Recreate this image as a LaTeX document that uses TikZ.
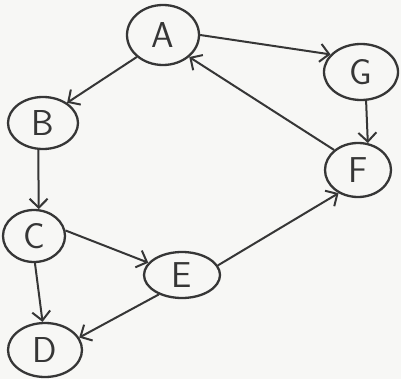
\documentclass[tikz,border=0pt]{standalone}
\usetikzlibrary{shapes.geometric,arrows.meta}
\definecolor{ink}{HTML}{363636}
\definecolor{paper}{HTML}{F7F7F5}
\begin{document}
\begin{tikzpicture}[x=1pt,y=-1pt,
  vert/.style={ellipse,draw=ink,line width=2.3pt,text=ink,inner sep=0pt,
    font=\sffamily\fontsize{36}{36}\selectfont},
  edge/.style={draw=ink,line width=2pt,-{Straight Barb[length=9pt,width=18pt,line width=2pt]}}]
\fill[paper] (0,0) rectangle (401,379);
\useasboundingbox (0,0) rectangle (401,379);
\node[vert,minimum width=72pt,minimum height=60pt] (A) at (163,35) {A};
\node[vert,minimum width=74pt,minimum height=56pt] (G) at (361,72) {G};
\node[vert,minimum width=70pt,minimum height=52pt] (B) at (43,123) {B};
\node[vert,minimum width=66pt,minimum height=54pt] (F) at (358,170) {F};
\node[vert,minimum width=62pt,minimum height=52pt] (C) at (34,236) {C};
\node[vert,minimum width=76pt,minimum height=46pt] (E) at (182,275) {E};
\node[vert,minimum width=74pt,minimum height=54pt] (D) at (45,350) {D};
\draw[edge] (A.east) -- (G.150);
\draw[edge] (A.220) -- (B.40);
\draw[edge] (F.140) -- (A.-40);
\draw[edge] (G.-80) -- (F.70);
\draw[edge] (B.-100) -- (C.80);
\draw[edge] (C.10) -- (E.160);
\draw[edge] (C.-88) -- (D.95);
\draw[edge] (E.-140) -- (D.20);
\draw[edge] (E.15) -- (F.-130);
\end{tikzpicture}
\end{document}
